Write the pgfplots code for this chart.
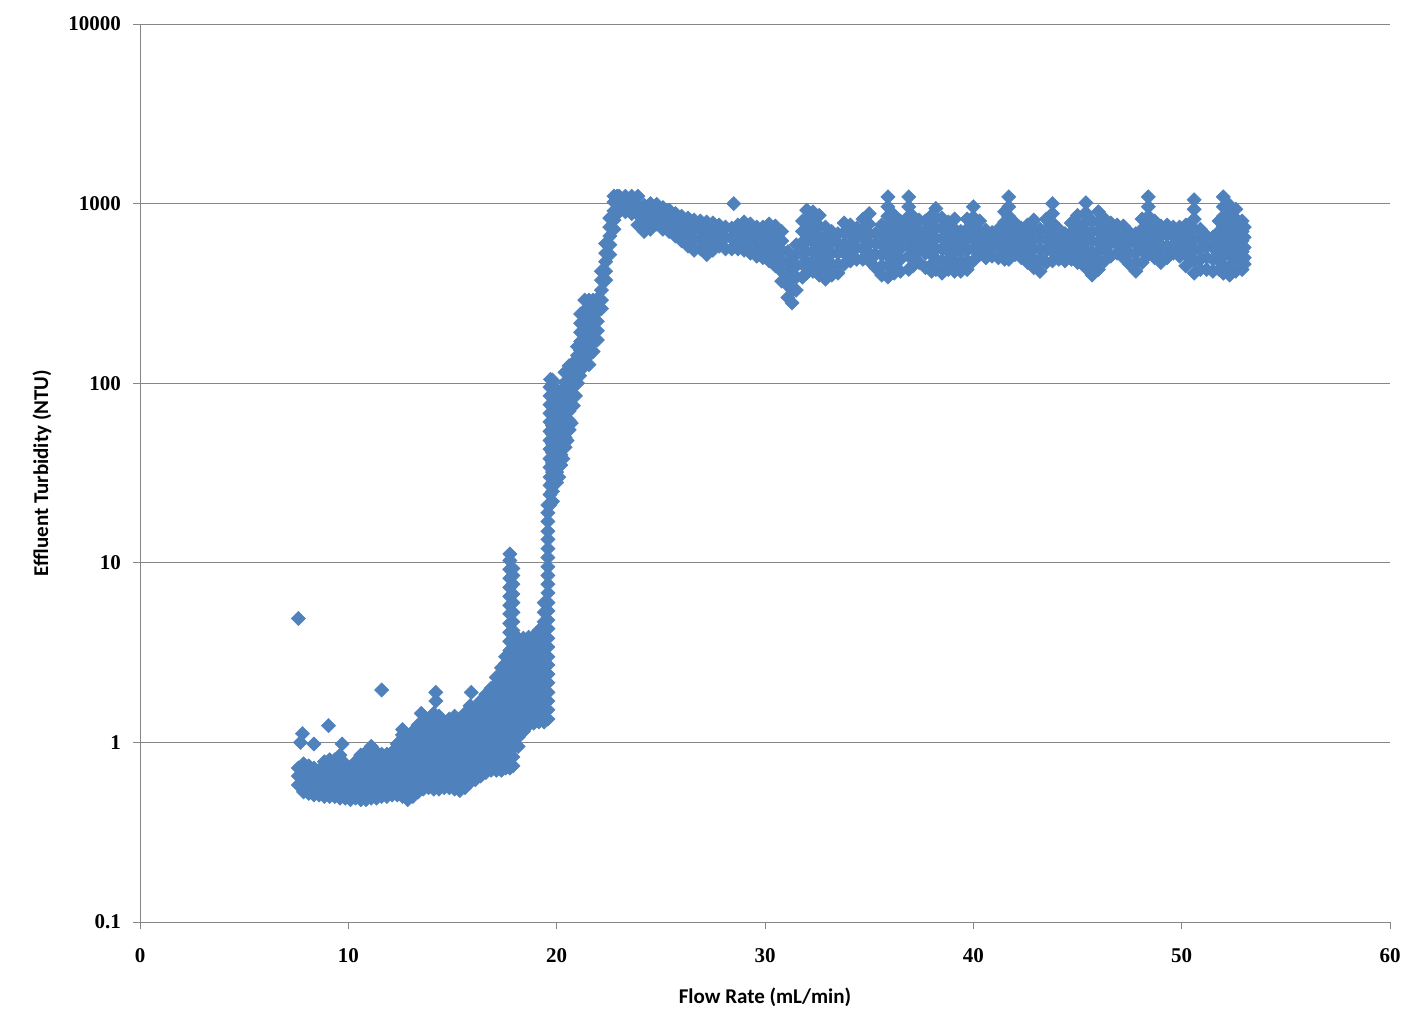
\documentclass[border=0pt]{standalone}
\usepackage{fontspec}
\setmainfont{Liberation Serif}
\newfontfamily\calibri{Carlito}
\usepackage{pgfplots}
\pgfplotsset{compat=1.18}
\definecolor{ptblue}{HTML}{4F81BD}
\definecolor{gridgray}{HTML}{868686}
\begin{document}
\begin{tikzpicture}
\begin{axis}[
	scale only axis,
	width=625pt, height=449pt,
	xmin=0, xmax=60,
	ymode=log, ymin=0.1, ymax=10000,
	xtick={0,10,20,30,40,50,60},
	xticklabels={0,10,20,30,40,50,60},
	ytick={0.1,1,10,100,1000,10000},
	yticklabels={0.1,1,10,100,1000,10000},
	yminorticks=false,
	axis x line*=bottom, axis y line*=left,
	axis line style={gridgray, line width=0.5pt},
	tick align=outside,
	major tick length=3.5pt,
	tick style={gridgray, line width=0.5pt},
	ymajorgrids=true,
	grid style={gridgray, line width=0.5pt},
	ticklabel style={font=\bfseries\fontsize{10.5}{12}\selectfont},
	yticklabel style={xshift=-2.5pt},
	xticklabel style={yshift=-6pt},
	xlabel={Flow Rate (mL/min)},
	ylabel={Effluent Turbidity (NTU)},
	label style={font=\calibri\bfseries\fontsize{10.5}{12}\selectfont},
	xlabel style={at={(axis description cs:0.5,-0.0835)}, anchor=center},
	ylabel style={at={(axis description cs:-0.0784,0.5)}, anchor=center},
]
\addplot[only marks, color=ptblue, mark=square*, mark size=2.5pt,
	mark options={rotate=45, draw=ptblue, fill=ptblue, line width=0.3pt}]
	coordinates {
	% low cluster
	(7.6,0.58)(7.6,0.65)(7.6,0.72)(7.7,1.0)(7.8,1.12)(7.6,4.9)
	(7.85,0.53)(7.85,0.59)(7.85,0.66)(7.85,0.76)
	(8.1,0.52)(8.1,0.58)(8.1,0.65)(8.1,0.74)
	(8.35,0.51)(8.35,0.57)(8.35,0.64)(8.35,0.72)(8.35,0.98)
	(8.6,0.51)(8.6,0.57)(8.6,0.64)(8.6,0.70)
	(8.85,0.50)(8.85,0.56)(8.85,0.63)(8.85,0.70)(8.85,0.78)
	(9.05,1.24)
	(9.1,0.50)(9.1,0.56)(9.1,0.63)(9.1,0.71)(9.1,0.80)
	(9.35,0.50)(9.35,0.56)(9.35,0.63)(9.35,0.71)(9.35,0.80)
	(9.6,0.49)(9.6,0.55)(9.6,0.62)(9.6,0.70)(9.6,0.78)(9.6,0.85)(9.7,0.98)
	(9.85,0.49)(9.85,0.55)(9.85,0.62)(9.85,0.69)(9.85,0.76)
	(10.1,0.48)(10.1,0.54)(10.1,0.60)(10.1,0.67)(10.1,0.72)
	(10.35,0.49)(10.35,0.55)(10.35,0.62)(10.35,0.70)(10.35,0.78)
	(10.6,0.48)(10.6,0.54)(10.6,0.60)(10.6,0.67)(10.6,0.75)(10.6,0.85)
	(10.85,0.48)(10.85,0.54)(10.85,0.60)(10.85,0.67)(10.85,0.75)(10.85,0.88)
	(11.1,0.49)(11.1,0.55)(11.1,0.61)(11.1,0.69)(11.1,0.78)(11.1,0.87)(11.1,0.95)
	(11.35,0.49)(11.35,0.55)(11.35,0.61)(11.35,0.69)(11.35,0.78)(11.35,0.88)
	(11.6,0.50)(11.6,0.56)(11.6,0.62)(11.6,0.70)(11.6,0.78)(11.6,0.86)(11.6,1.96)
	(11.85,0.50)(11.85,0.56)(11.85,0.62)(11.85,0.70)(11.85,0.78)(11.85,0.86)
	(12.1,0.51)(12.1,0.57)(12.1,0.63)(12.1,0.71)(12.1,0.79)(12.1,0.88)
	(12.35,0.51)(12.35,0.57)(12.35,0.64)(12.35,0.72)(12.35,0.81)(12.35,0.90)(12.35,0.98)
	(12.6,0.50)(12.6,0.56)(12.6,0.63)(12.6,0.71)(12.6,0.80)(12.6,0.90)(12.6,1.0)(12.6,1.1)(12.6,1.18)
	(12.85,0.48)(12.85,0.54)(12.85,0.61)(12.85,0.68)(12.85,0.76)(12.85,0.85)(12.85,0.95)(12.85,1.05)
	(13.1,0.50)(13.1,0.56)(13.1,0.63)(13.1,0.71)(13.1,0.80)(13.1,0.90)(13.1,1.01)(13.1,1.15)
	(13.35,0.53)(13.35,0.59)(13.35,0.66)(13.35,0.74)(13.35,0.83)(13.35,0.93)(13.35,1.04)(13.35,1.16)(13.35,1.25)(13.5,1.45)
	(13.6,0.55)(13.6,0.62)(13.6,0.69)(13.6,0.77)(13.6,0.86)(13.6,0.96)(13.6,1.07)(13.6,1.19)(13.6,1.30)
	(13.85,0.56)(13.85,0.63)(13.85,0.70)(13.85,0.78)(13.85,0.87)(13.85,0.97)(13.85,1.08)(13.85,1.21)(13.85,1.35)
	(14.1,0.55)(14.1,0.62)(14.1,0.69)(14.1,0.77)(14.1,0.86)(14.1,0.96)(14.1,1.07)(14.1,1.19)(14.1,1.32)(14.1,1.45)(14.2,1.7)(14.2,1.9)
	(14.35,0.55)(14.35,0.62)(14.35,0.69)(14.35,0.77)(14.35,0.86)(14.35,0.96)(14.35,1.07)(14.35,1.19)(14.35,1.32)(14.35,1.40)
	(14.6,0.56)(14.6,0.62)(14.6,0.69)(14.6,0.77)(14.6,0.86)(14.6,0.96)(14.6,1.07)(14.6,1.19)(14.6,1.30)
	(14.85,0.56)(14.85,0.62)(14.85,0.69)(14.85,0.77)(14.85,0.86)(14.85,0.96)(14.85,1.07)(14.85,1.19)(14.85,1.35)
	(15.1,0.55)(15.1,0.62)(15.1,0.69)(15.1,0.77)(15.1,0.86)(15.1,0.96)(15.1,1.07)(15.1,1.19)(15.1,1.32)(15.1,1.40)
	(15.35,0.54)(15.35,0.60)(15.35,0.67)(15.35,0.75)(15.35,0.84)(15.35,0.94)(15.35,1.05)(15.35,1.17)(15.35,1.30)
	(15.6,0.56)(15.6,0.62)(15.6,0.69)(15.6,0.77)(15.6,0.86)(15.6,0.96)(15.6,1.07)(15.6,1.19)(15.6,1.32)(15.6,1.45)
	(15.85,0.60)(15.85,0.67)(15.85,0.75)(15.85,0.84)(15.85,0.94)(15.85,1.05)(15.85,1.17)(15.85,1.31)(15.85,1.46)(15.85,1.60)(15.9,1.9)
	(16.1,0.62)(16.1,0.69)(16.1,0.77)(16.1,0.86)(16.1,0.96)(16.1,1.07)(16.1,1.19)(16.1,1.33)(16.1,1.48)(16.1,1.55)
	(16.35,0.65)(16.35,0.72)(16.35,0.80)(16.35,0.89)(16.35,0.99)(16.35,1.11)(16.35,1.24)(16.35,1.38)(16.35,1.54)(16.35,1.70)
	(16.6,0.68)(16.6,0.76)(16.6,0.85)(16.6,0.95)(16.6,1.06)(16.6,1.18)(16.6,1.32)(16.6,1.47)(16.6,1.65)(16.6,1.85)
	(16.85,0.70)(16.85,0.78)(16.85,0.87)(16.85,0.97)(16.85,1.08)(16.85,1.21)(16.85,1.35)(16.85,1.51)(16.85,1.69)(16.85,1.88)(16.85,2.0)
	(17.1,0.70)(17.1,0.78)(17.1,0.87)(17.1,0.97)(17.1,1.08)(17.1,1.21)(17.1,1.35)(17.1,1.51)(17.1,1.69)(17.1,1.89)(17.1,2.1)(17.1,2.3)
	(17.35,0.70)(17.35,0.78)(17.35,0.87)(17.35,0.97)(17.35,1.08)(17.35,1.21)(17.35,1.35)(17.35,1.51)(17.35,1.69)(17.35,1.89)(17.35,2.1)(17.35,2.35)(17.35,2.6)
	(17.55,0.72)(17.55,0.80)(17.55,0.90)(17.55,1.0)(17.55,1.12)(17.55,1.25)(17.55,1.4)(17.55,1.57)(17.55,1.75)(17.55,1.96)(17.55,2.2)(17.55,2.45)(17.55,2.75)(17.55,3.0)
	% first spike and the shoulder before the rise
	(17.75,0.72)(17.75,0.81)(17.75,0.91)(17.75,1.02)(17.75,1.15)(17.75,1.29)(17.75,1.45)(17.75,1.62)(17.75,1.82)(17.75,2.05)(17.75,2.3)(17.75,2.6)(17.75,2.9)(17.75,3.25)(17.75,3.65)(17.75,4.1)(17.75,4.6)(17.75,5.2)(17.75,5.8)(17.75,6.5)(17.75,7.3)(17.75,8.2)(17.75,9.2)(17.75,10.3)(17.75,11.2)
	(17.9,0.74)(17.9,0.83)(17.9,0.93)(17.9,1.05)(17.9,1.18)(17.9,1.32)(17.9,1.48)(17.9,1.66)(17.9,1.86)(17.9,2.1)(17.9,2.35)(17.9,2.65)(17.9,2.95)(17.9,3.3)(17.9,3.7)(17.9,4.2)(17.9,4.7)(17.9,5.3)(17.9,6.0)(17.9,6.7)(17.9,7.6)(17.9,8.5)(17.9,9.3)
	(18.15,0.95)(18.15,1.07)(18.15,1.2)(18.15,1.35)(18.15,1.5)(18.15,1.7)(18.15,1.9)(18.15,2.15)(18.15,2.4)(18.15,2.7)(18.15,3.0)(18.15,3.4)(18.15,3.8)
	(18.4,1.15)(18.4,1.3)(18.4,1.45)(18.4,1.63)(18.4,1.83)(18.4,2.05)(18.4,2.3)(18.4,2.6)(18.4,2.9)(18.4,3.3)(18.4,3.8)
	(18.65,1.25)(18.65,1.4)(18.65,1.57)(18.65,1.76)(18.65,1.98)(18.65,2.2)(18.65,2.5)(18.65,2.8)(18.65,3.15)(18.65,3.55)(18.65,3.85)
	(18.9,1.28)(18.9,1.44)(18.9,1.62)(18.9,1.82)(18.9,2.05)(18.9,2.3)(18.9,2.6)(18.9,2.9)(18.9,3.25)(18.9,3.65)(18.9,3.9)
	(19.15,1.3)(19.15,1.46)(19.15,1.64)(19.15,1.84)(19.15,2.07)(19.15,2.3)(19.15,2.6)(19.15,2.9)(19.15,3.3)(19.15,3.7)(19.15,4.2)
	(19.4,1.3)(19.4,1.46)(19.4,1.64)(19.4,1.84)(19.4,2.07)(19.4,2.3)(19.4,2.6)(19.4,2.9)(19.4,3.3)(19.4,3.7)(19.4,4.2)(19.4,4.7)(19.4,5.3)(19.4,6.0)
	% steep rise
	(19.58,1.35)(19.58,1.52)(19.58,1.7)(19.58,1.9)(19.58,2.15)(19.58,2.4)(19.58,2.7)(19.58,3.0)(19.58,3.4)(19.58,3.8)(19.58,4.3)(19.58,4.8)(19.58,5.4)(19.58,6.0)(19.58,6.8)(19.58,7.6)(19.58,8.5)(19.58,9.5)(19.58,10.7)(19.58,12)(19.58,13.5)(19.58,15)(19.58,17)(19.58,19)(19.58,21)
	(19.68,21)(19.68,24)(19.68,27)(19.68,30)(19.68,34)(19.68,38)(19.68,43)(19.68,48)(19.68,54)(19.68,61)(19.68,68)(19.68,76)(19.68,85)(19.68,95)(19.7,105)
	(19.8,22)(19.8,25)(19.8,28)(19.8,32)(19.8,36)(19.8,41)(19.8,46)(19.8,52)(19.8,58)(19.8,66)(19.8,74)(19.8,84)(19.8,94)(19.8,104)
	(20.0,28)(20.0,32)(20.0,36)(20.0,41)(20.0,46)(20.0,52)(20.0,58)(20.0,66)(20.0,74)(20.0,83)(20.0,92)
	(20.1,30)(20.3,38)(20.5,48)(20.7,60)(20.9,85)(21.1,110)
	(20.2,35)(20.2,40)(20.2,45)(20.2,50)(20.2,56)(20.2,63)(20.2,71)(20.2,80)(20.2,90)
	(20.4,44)(20.4,50)(20.4,56)(20.4,63)(20.4,71)(20.4,80)(20.4,90)(20.4,101)(20.4,115)
	(20.6,55)(20.6,62)(20.6,70)(20.6,79)(20.6,89)(20.6,100)(20.6,112)(20.6,125)
	(20.8,75)(20.8,85)(20.8,96)(20.8,108)(20.8,121)(20.8,130)
	(21.0,100)(21.0,113)(21.0,127)(21.0,143)(21.0,160)
	(21.15,120)(21.15,135)(21.15,152)(21.15,171)(21.15,192)(21.15,216)(21.15,243)
	(21.35,125)(21.35,141)(21.35,159)(21.35,179)(21.35,201)(21.35,226)(21.35,254)(21.35,290)
	(21.55,127)(21.55,143)(21.55,161)(21.55,181)(21.55,204)(21.55,229)(21.55,258)(21.55,290)
	(21.75,150)(21.75,169)(21.75,190)(21.75,214)(21.75,241)(21.75,271)(21.75,290)
	(21.95,174)(21.95,196)(21.95,221)(21.95,249)(21.95,280)(21.95,295)
	(22.15,260)(22.15,290)(22.15,330)(22.15,375)(22.15,420)
	(22.35,375)(22.35,420)(22.35,475)(22.35,530)(22.35,600)
	(22.55,520)(22.55,590)(22.55,660)(22.55,740)(22.55,830)
	(22.75,720)(22.75,810)(22.75,910)(22.75,1020)(22.75,1100)
	(22.9,900)(22.9,1000)(22.9,1100)
	% plateau
	(23.0,1100)(23.0,1000)(23.0,900)
	(23.3,1100)(23.3,1000)(23.3,900)
	(23.6,1100)(23.6,990)(23.6,880)
	(23.9,1100)(23.9,980)(23.9,870)(23.9,760)
	(24.2,980)(24.2,870)(24.2,780)(24.2,700)
	(24.5,1000)(24.5,890)(24.5,800)(24.5,720)
	(24.8,990)(24.8,870)(24.8,770)
	(25.1,950)(25.1,830)(25.1,720)
	(25.4,920)(25.4,800)(25.4,700)
	(25.7,880)(25.7,790)(25.7,720)(25.7,660)
	(26.0,850)(26.0,760)(26.0,680)(26.0,620)
	(26.3,830)(26.3,740)(26.3,650)(26.3,580)
	(26.6,810)(26.6,720)(26.6,630)(26.6,550)
	(26.9,800)(26.9,710)(26.9,630)(26.9,560)
	(27.2,790)(27.2,700)(27.2,620)(27.2,560)(27.2,520)
	(27.5,780)(27.5,690)(27.5,610)(27.5,550)
	(27.8,760)(27.8,670)(27.8,580)
	(28.1,740)(28.1,650)(28.1,560)
	(28.4,730)(28.4,640)(28.4,560)(28.5,1000)
	(28.7,760)(28.7,670)(28.7,600)(28.7,560)
	(29.0,790)(29.0,700)(29.0,620)(29.0,550)
	(29.3,770)(29.3,680)(29.3,600)(29.3,530)
	(29.6,740)(29.6,660)(29.6,580)(29.6,510)
	(29.9,740)(29.9,650)(29.9,570)(29.9,500)
	(30.2,770)(30.2,680)(30.2,600)(30.2,530)(30.2,480)
	(30.5,750)(30.5,660)(30.5,580)(30.5,510)(30.5,450)
	(30.8,700)(30.8,620)(30.8,550)(30.8,480)(30.8,420)(30.8,370)
	(31.1,540)(31.1,470)(31.1,410)(31.1,350)(31.1,300)
	(31.3,500)(31.3,440)(31.3,380)(31.3,330)(31.3,280)
	(31.5,590)(31.5,520)(31.5,450)(31.5,390)(31.5,330)
	(31.8,800)(31.8,700)(31.8,610)(31.8,530)(31.8,460)(31.8,390)
	(32.0,920)(32.0,810)(32.0,710)(32.0,620)(32.0,540)(32.0,470)(32.0,410)
	(32.3,900)(32.3,790)(32.3,690)(32.3,610)(32.3,540)(32.3,480)(32.3,420)
	(32.6,860)(32.6,750)(32.6,660)(32.6,580)(32.6,510)(32.6,450)(32.6,400)
	(32.9,740)(32.9,650)(32.9,570)(32.9,500)(32.9,440)(32.9,380)
	(33.2,700)(33.2,610)(33.2,530)(33.2,460)(33.2,400)
	(33.5,680)(33.5,600)(33.5,530)(33.5,460)(33.5,410)
	(33.8,780)(33.8,690)(33.8,600)(33.8,530)(33.8,460)
	(34.1,760)(34.1,670)(34.1,590)(34.1,530)(34.1,480)
	(34.4,730)(34.4,650)(34.4,570)(34.4,490)
	(34.7,820)(34.7,720)(34.7,640)(34.7,560)(34.7,490)
	(35.0,880)(35.0,770)(35.0,680)(35.0,600)(35.0,530)(35.0,480)
	(35.3,680)(35.3,600)(35.3,520)(35.3,440)
	(35.6,760)(35.6,670)(35.6,590)(35.6,520)(35.6,450)(35.6,400)
	(35.9,1090)(35.9,960)(35.9,850)(35.9,750)(35.9,660)(35.9,580)(35.9,510)(35.9,450)(35.9,390)
	(36.2,860)(36.2,760)(36.2,670)(36.2,590)(36.2,520)(36.2,460)(36.2,410)
	(36.5,800)(36.5,710)(36.5,630)(36.5,560)(36.5,490)(36.5,420)
	(36.9,1090)(36.9,960)(36.9,850)(36.9,750)(36.9,660)(36.9,580)(36.9,510)(36.9,430)
	(37.1,850)(37.1,750)(37.1,660)(37.1,580)(37.1,510)(37.1,450)
	(37.4,810)(37.4,710)(37.4,630)(37.4,550)(37.4,470)
	(37.7,800)(37.7,700)(37.7,610)(37.7,530)(37.7,440)
	(38.0,860)(38.0,760)(38.0,670)(38.0,590)(38.0,520)(38.0,460)(38.0,420)
	(38.2,940)(38.2,830)(38.2,730)(38.2,640)(38.2,560)(38.2,490)(38.2,430)
	(38.5,830)(38.5,730)(38.5,640)(38.5,560)(38.5,480)(38.5,410)
	(38.8,790)(38.8,690)(38.8,610)(38.8,540)(38.8,480)(38.8,430)
	(39.1,820)(39.1,720)(39.1,630)(39.1,550)(39.1,480)(39.1,420)
	(39.4,700)(39.4,610)(39.4,540)(39.4,470)(39.4,420)
	(39.7,820)(39.7,720)(39.7,630)(39.7,550)(39.7,480)(39.7,430)
	(40.0,960)(40.0,840)(40.0,740)(40.0,650)(40.0,560)(40.0,480)
	(40.3,800)(40.3,700)(40.3,610)(40.3,520)
	(40.6,710)(40.6,630)(40.6,560)(40.6,500)
	(40.9,690)(40.9,600)(40.9,510)
	(41.2,720)(41.2,640)(41.2,570)(41.2,500)
	(41.5,900)(41.5,790)(41.5,700)(41.5,620)(41.5,550)(41.5,490)
	(41.7,1090)(41.7,960)(41.7,850)(41.7,750)(41.7,660)(41.7,570)(41.7,490)
	(42.0,780)(42.0,690)(42.0,600)(42.0,520)
	(42.3,730)(42.3,650)(42.3,570)(42.3,500)
	(42.6,760)(42.6,670)(42.6,590)(42.6,520)(42.6,470)
	(42.9,810)(42.9,720)(42.9,630)(42.9,560)(42.9,490)(42.9,440)
	(43.2,720)(43.2,640)(43.2,560)(43.2,490)(43.2,420)
	(43.5,820)(43.5,720)(43.5,630)(43.5,550)(43.5,470)
	(43.8,1000)(43.8,880)(43.8,780)(43.8,690)(43.8,610)(43.8,540)(43.8,480)
	(44.1,720)(44.1,640)(44.1,560)(44.1,490)
	(44.4,680)(44.4,600)(44.4,530)(44.4,480)
	(44.7,780)(44.7,690)(44.7,610)(44.7,540)(44.7,490)
	(45.0,860)(45.0,760)(45.0,670)(45.0,590)(45.0,520)(45.0,470)
	(45.4,1010)(45.4,890)(45.4,790)(45.4,700)(45.4,620)(45.4,550)(45.4,490)(45.4,440)
	(45.7,800)(45.7,700)(45.7,620)(45.7,540)(45.7,470)(45.7,400)
	(46.0,900)(46.0,790)(46.0,700)(46.0,610)(46.0,540)(46.0,480)(46.0,430)
	(46.3,820)(46.3,720)(46.3,640)(46.3,560)(46.3,480)
	(46.6,780)(46.6,690)(46.6,600)(46.6,510)
	(46.9,760)(46.9,670)(46.9,600)(46.9,530)
	(47.2,750)(47.2,660)(47.2,580)(47.2,500)
	(47.5,690)(47.5,610)(47.5,530)(47.5,460)
	(47.8,680)(47.8,600)(47.8,530)(47.8,470)(47.8,420)
	(48.1,820)(48.1,720)(48.1,630)(48.1,550)(48.1,470)
	(48.4,1090)(48.4,960)(48.4,850)(48.4,750)(48.4,660)(48.4,590)(48.4,520)
	(48.7,800)(48.7,710)(48.7,630)(48.7,560)(48.7,500)
	(49.0,750)(49.0,660)(49.0,590)(49.0,520)(49.0,470)
	(49.3,760)(49.3,670)(49.3,580)(49.3,500)
	(49.6,740)(49.6,660)(49.6,590)(49.6,530)
	(49.9,740)(49.9,650)(49.9,580)(49.9,510)
	(50.2,760)(50.2,670)(50.2,590)(50.2,520)(50.2,450)
	(50.6,1050)(50.6,930)(50.6,820)(50.6,720)(50.6,630)(50.6,550)(50.6,480)(50.6,410)
	(50.9,720)(50.9,640)(50.9,560)(50.9,490)(50.9,430)
	(51.2,660)(51.2,580)(51.2,500)(51.2,430)
	(51.5,650)(51.5,570)(51.5,490)(51.5,420)
	(51.8,800)(51.8,700)(51.8,620)(51.8,540)(51.8,480)(51.8,430)
	(52.0,1090)(52.0,960)(52.0,850)(52.0,750)(52.0,660)(52.0,580)(52.0,510)(52.0,450)(52.0,410)
	(52.3,980)(52.3,860)(52.3,760)(52.3,670)(52.3,590)(52.3,520)(52.3,450)(52.3,400)
	(52.6,930)(52.6,820)(52.6,720)(52.6,640)(52.6,560)(52.6,490)(52.6,420)
	(52.9,800)(52.9,700)(52.9,620)(52.9,540)(52.9,480)(52.9,430)
	(53.0,740)(53.0,650)(53.0,570)(53.0,500)(53.0,460)
	};
\end{axis}
\pgfresetboundingbox
\useasboundingbox ([shift={(-70pt,-56.5pt)}]current axis.south west) rectangle ([shift={(17pt,12pt)}]current axis.north east);
\end{tikzpicture}
\end{document}
